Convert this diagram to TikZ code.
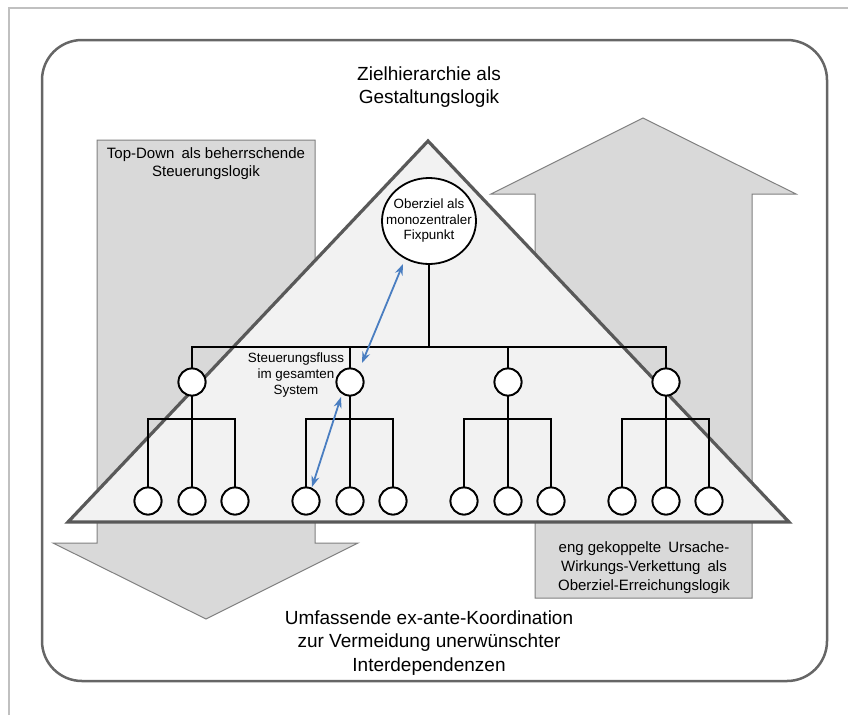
\documentclass[tikz,border=0pt]{standalone}
\usepackage{fontspec}
\setmainfont{Liberation Sans}
\usetikzlibrary{arrows.meta,shapes.geometric}

\definecolor{framegray}{RGB}{192,192,192}
\definecolor{panelgray}{RGB}{102,102,102}
\definecolor{arrowfill}{RGB}{217,217,217}
\definecolor{arrowline}{RGB}{128,128,128}
\definecolor{pyrfill}{RGB}{242,242,242}
\definecolor{pyrline}{RGB}{89,89,89}
\definecolor{flowblue}{RGB}{74,126,193}

\tikzset{
  outerframe/.style={draw=framegray, line width=1.5pt},
  panel/.style={draw=panelgray, line width=2.5pt, rounded corners=40pt},
  bigarrow/.style={fill=arrowfill, draw=arrowline, line width=1pt},
  pyramid/.style={fill=pyrfill, draw=pyrline, line width=3.2pt},
  treeline/.style={draw=black, line width=1.8pt},
  unit/.style={circle, draw=black, fill=white, line width=1.8pt, minimum size=27pt, inner sep=0pt},
  goal/.style={ellipse, draw=black, fill=white, line width=1.8pt, minimum width=94pt, minimum height=86pt, inner sep=0pt},
  goaltext/.style={align=center, inner sep=0pt, font=\fontsize{13.4}{15.5}\selectfont},
  bigtext/.style={align=center, inner sep=0pt, font=\fontsize{19}{23.5}\selectfont},
  boxtext/.style={align=center, inner sep=0pt, font=\fontsize{15}{18.7}\selectfont},
  smalltext/.style={align=center, inner sep=0pt, font=\fontsize{13.4}{16}\selectfont},
  flow/.style={draw=flowblue, line width=1.8pt, {Stealth[length=11pt,width=8pt]}-{Stealth[length=11pt,width=8pt]}},
}

\begin{document}
\begin{tikzpicture}[x=1pt,y=-1pt]
\useasboundingbox (0,0) rectangle (848,715);

% light outer frame (top and left edges)
\draw[outerframe] (9,715) -- (9,8) -- (848,8);

% rounded panel
\draw[panel] (42,40) rectangle (827,681);

% downward arrow (left)
\draw[bigarrow] (97,140) -- (315,140) -- (315,543) -- (358,543) -- (206,619)
  -- (53,543) -- (97,543) -- cycle;

% upward arrow (right)
\draw[bigarrow] (535,598) -- (535,194) -- (491,194) -- (643,118) -- (796,194)
  -- (752,194) -- (752,598) -- cycle;

% pyramid
\draw[pyramid] (428,141) -- (789,522) -- (68,522) -- cycle;

% titles and labels
\node[bigtext] (title) at (429,87) {Zielhierarchie als\\Gestaltungslogik};
\node[bigtext] (bottom) at (429,643) {Umfassende ex-ante-Koordination\\zur Vermeidung unerwünschter\\Interdependenzen};
\node[boxtext] (topdown) at (206,163.5) {Top-Down\hspace{3pt} als beherrschende\\Steuerungslogik};
\node[boxtext] (chain) at (644,567.5) {eng gekoppelte\hspace{3pt} Ursache-\\Wirkungs-Verkettung\hspace{3pt} als\\Oberziel-Erreichungslogik};

% hierarchy
\node[goal, label={[goaltext]center:Oberziel als\\monozentraler\\Fixpunkt}] (root) at (429,221) {};
\coordinate (bar) at (429,347);
\draw[treeline] (root) -- (bar);

\foreach \k/\x in {1/192,2/350,3/508,4/666}{
  \coordinate (j\k) at (\x,419);
  \node[unit] (b\k) at (\x,382) {};
  \node[unit] (c\k1) at (\x-44,501) {};
  \node[unit] (c\k2) at (\x,501) {};
  \node[unit] (c\k3) at (\x+43,501) {};
  \draw[treeline] (b\k.north) |- (bar);
  \draw[treeline] (b\k) -- (c\k2);
  \draw[treeline] (c\k1.north) |- (j\k);
  \draw[treeline] (c\k3.north) |- (j\k);
}
% redraw circles above the lines
\foreach \k/\x in {1/192,2/350,3/508,4/666}{
  \node[unit] at (b\k) {};
  \node[unit] at (c\k1) {};
  \node[unit] at (c\k2) {};
  \node[unit] at (c\k3) {};
}

\node[smalltext] (flowlabel) at (296,375) {Steuerungsfluss\\im gesamten\\System};

% control flow arrows
\coordinate (f1a) at (403,264);
\coordinate (f1b) at (362,363);
\coordinate (f2a) at (341,397);
\coordinate (f2b) at (312,487);
\draw[flow] (f1a) -- (f1b);
\draw[flow] (f2a) -- (f2b);

\end{tikzpicture}
\end{document}
